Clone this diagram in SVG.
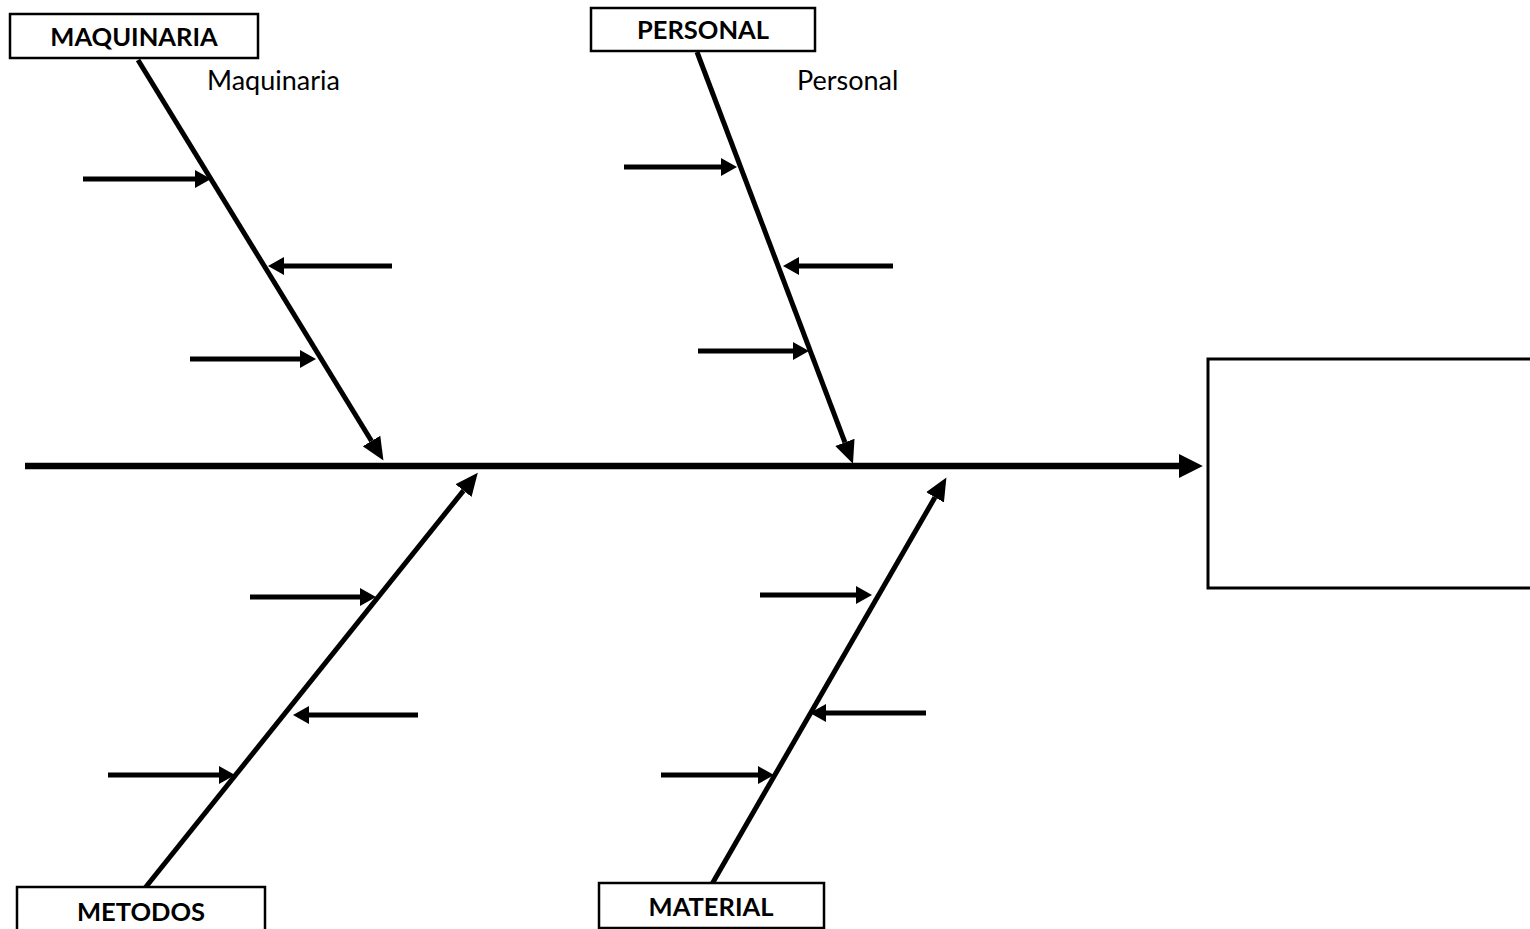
<svg xmlns="http://www.w3.org/2000/svg" width="1530" height="929" viewBox="0 0 1530 929">
<style>
.box{fill:#fff;stroke:#000;stroke-width:2.5}
.lbl{font-family:Lato,"Open Sans",sans-serif;font-weight:bold;font-size:25.5px;fill:#000;text-anchor:middle}
.sub{font-family:Lato,"Open Sans",sans-serif;font-size:27px;fill:#000}
.bone{stroke:#000;stroke-width:5;fill:none;marker-end:url(#bh)}
.sm{stroke:#000;stroke-width:5;fill:none;marker-end:url(#sh)}
</style>
<defs>
<marker id="bh" markerUnits="userSpaceOnUse" markerWidth="24" markerHeight="24" viewBox="0 -10 21 20" refX="0" refY="0" orient="auto"><path d="M0,-9 L20,0 L0,9 z" fill="#000"/></marker>
<marker id="sh" markerUnits="userSpaceOnUse" markerWidth="20" markerHeight="20" viewBox="0 -10 17 20" refX="0" refY="0" orient="auto"><path d="M0,-9 L16,0 L0,9 z" fill="#000"/></marker>
<marker id="mh" markerUnits="userSpaceOnUse" markerWidth="26" markerHeight="26" viewBox="0 -12 23 24" refX="0" refY="0" orient="auto"><path d="M0,-11 L22,0 L0,11 z" fill="#000"/></marker>
</defs>
<g id="connectors">
<line x1="25" y1="466" x2="1179" y2="466" stroke="#000" stroke-width="6.5" marker-end="url(#mh)"/>
<line class="bone" x1="138" y1="60" x2="371.5" y2="441"/>
<line class="bone" x1="697" y1="52" x2="844.9" y2="442.3"/>
<line class="bone" x1="145" y1="888" x2="463.5" y2="490.6"/>
<line class="bone" x1="712" y1="884" x2="935" y2="497.3"/>
<line class="sm" x1="83" y1="179" x2="195" y2="179"/>
<line class="sm" x1="392" y1="266" x2="284" y2="266"/>
<line class="sm" x1="190" y1="359" x2="300" y2="359"/>
<line class="sm" x1="624" y1="167" x2="721" y2="167"/>
<line class="sm" x1="893" y1="266" x2="799" y2="266"/>
<line class="sm" x1="698" y1="351" x2="793" y2="351"/>
<line class="sm" x1="250" y1="597" x2="360" y2="597"/>
<line class="sm" x1="418" y1="715" x2="309" y2="715"/>
<line class="sm" x1="108" y1="775" x2="219" y2="775"/>
<line class="sm" x1="760" y1="595" x2="856" y2="595"/>
<line class="sm" x1="926" y1="713" x2="826" y2="713"/>
<line class="sm" x1="661" y1="775" x2="758" y2="775"/>
</g>
<g id="maquinaria">
<rect class="box" x="10" y="14" width="248" height="44"/>
<text class="lbl" x="134" y="46">MAQUINARIA</text>
<text class="sub" x="207" y="90">Maquinaria</text>
</g>
<g id="personal">
<rect class="box" x="591" y="8" width="224" height="43"/>
<text class="lbl" x="703" y="39">PERSONAL</text>
<text class="sub" x="797" y="90">Personal</text>
</g>
<g id="metodos">
<rect class="box" x="17" y="887" width="248" height="50"/>
<text class="lbl" x="141" y="921">METODOS</text>
</g>
<g id="material">
<rect class="box" x="599" y="883" width="225" height="45"/>
<text class="lbl" x="711" y="916">MATERIAL</text>
</g>
<g id="effect">
<rect x="1208" y="359" width="330" height="229" fill="#fff" stroke="#000" stroke-width="3"/>
</g>
</svg>
